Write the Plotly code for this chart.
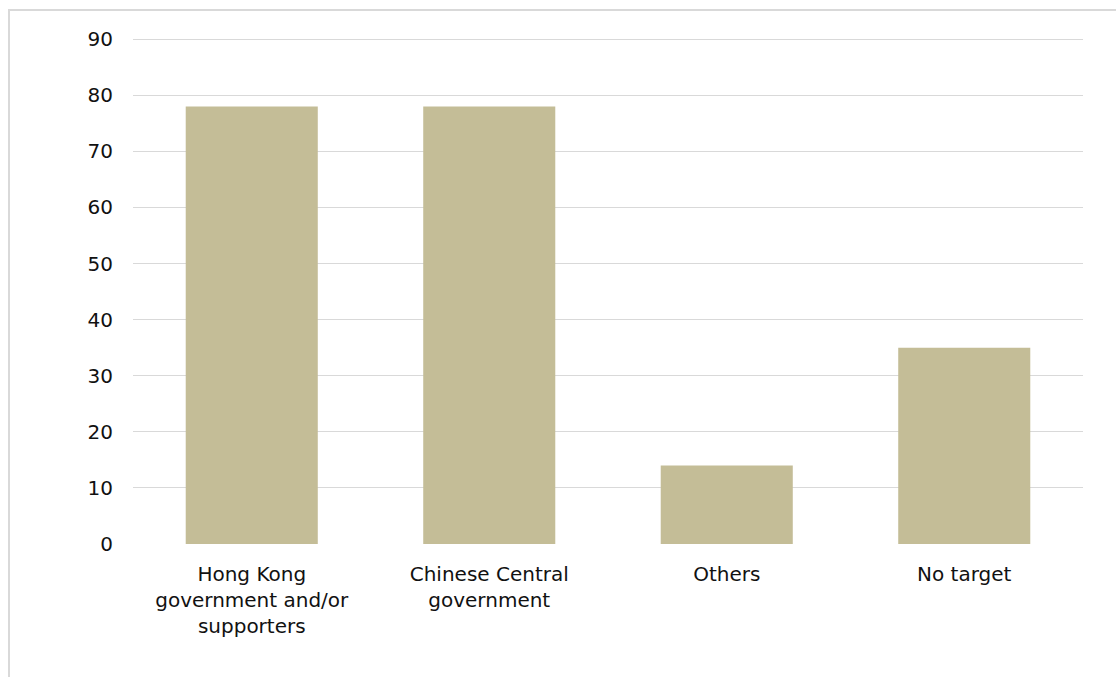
import plotly.graph_objects as go

categories = ["Hong Kong<br>government and/or<br>supporters", "Chinese Central<br>government", "Others", "No target"]
values = [78, 78, 14, 35]
y_ticks = [0, 10, 20, 30, 40, 50, 60, 70, 80, 90]

W, H = 1116, 677
L, R, T, B = 133, 33, 38, 133
pw, ph = W - L - R, H - T - B

def px_x(p):
    return (p - L) / pw

def px_y(p):
    return (H - B - p) / ph

fig = go.Figure(go.Bar(
    x=categories, y=values,
    marker=dict(color="#C4BD97", line=dict(width=0)),
    width=0.556,
))

fig.update_layout(
    width=W, height=H,
    margin=dict(l=L, r=R, t=T, b=B),
    plot_bgcolor="white", paper_bgcolor="white",
    font=dict(family="DejaVu Sans, Verdana, sans-serif", size=20, color="#111111"),
    showlegend=False,
    shapes=[dict(type="rect", xref="paper", yref="paper",
                 x0=px_x(9), x1=px_x(W + 20), y0=px_y(H + 20), y1=px_y(10),
                 line=dict(color="#D9D9D9", width=2), fillcolor="rgba(0,0,0,0)", layer="below")],
)
fig.update_xaxes(showgrid=False, ticks="outside", ticklen=12, tickcolor="rgba(0,0,0,0)",
                 showline=False, zeroline=False, tickfont=dict(size=20))
fig.update_yaxes(range=[0, 90.2], tickvals=y_ticks, showgrid=True, gridcolor="#D9D9D9", gridwidth=1.2,
                 zeroline=False, showline=False, ticks="outside", ticklen=15, tickcolor="rgba(0,0,0,0)",
                 tickfont=dict(size=20))

fig.write_html("out.html", config={"displayModeBar": False},
               post_script="document.body.style.margin='0px';")
